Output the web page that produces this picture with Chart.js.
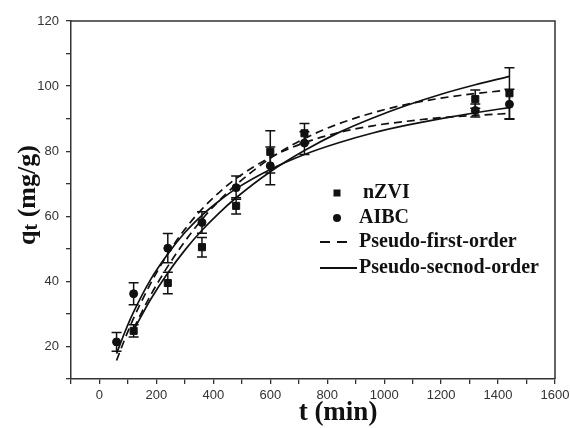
<!DOCTYPE html>
<html>
<head>
<meta charset="utf-8">
<style>
  html, body { margin: 0; padding: 0; background: #fff; }
  #wrap { width: 570px; height: 428px; }
</style>
<script src="https://cdn.jsdelivr.net/npm/chart.js@4/dist/chart.umd.min.js"></script>
</head>
<body>
<div id="wrap"><canvas id="kinetics" width="570" height="428"></canvas></div>
<script>
// Sampling times (min) of the adsorption experiments
const timeMin = [60, 120, 240, 360, 480, 600, 720, 1320, 1440];

// Measured uptake q_t (mg/g) and standard deviations
const nzviQ   = [null, 24.8, 39.5, 50.5, 63.2, 79.8, 85.5, 96.0, 97.8];
const nzviErr = [null, 1.9, 3.3, 3.0, 2.5, 6.5, 3.0, 2.8, 7.8];
const aibcQ   = [21.4, 36.2, 50.2, 58.1, 68.8, 75.5, 82.5, 92.5, 94.4];
const aibcErr = [2.9, 3.4, 4.5, 3.3, 3.6, 5.8, 3.5, 2.0, 4.6];

// Fitted kinetic curves
const aibcFitTime = [60, 90, 120, 180, 240, 300, 360, 420, 480, 600, 720, 840, 960, 1080, 1200, 1320, 1440];
const aibcFirst   = [15.7, 22.5, 28.7, 39.4, 48.5, 56.0, 62.2, 67.3, 71.6, 78.1, 82.6, 85.7, 87.8, 89.2, 90.3, 91.0, 91.6];
const aibcSecond  = [17.8, 24.6, 30.6, 40.6, 48.4, 55.0, 60.3, 64.7, 68.5, 74.4, 79.0, 82.6, 85.6, 88.0, 90.0, 91.8, 93.4];

const nzviFitTime = [120, 180, 240, 300, 360, 420, 480, 600, 720, 840, 960, 1080, 1200, 1320, 1440];
const nzviFirst   = [25.5, 35.8, 44.6, 52.3, 59.0, 64.8, 69.7, 77.8, 83.9, 88.4, 91.8, 94.4, 96.3, 97.7, 98.8];
const nzviSecond  = [25.0, 34.5, 42.6, 49.6, 55.7, 61.0, 65.7, 73.7, 80.2, 85.7, 90.2, 94.1, 97.5, 100.4, 103.0];

// Axis tick labels
const xTickLabels = [0, 200, 400, 600, 800, 1000, 1200, 1400, 1600];
const yTickLabels = [20, 40, 60, 80, 100, 120];

// Legend entries
const legendItems = ['nZVI', 'AIBC', 'Pseudo-first-order', 'Pseudo-secnod-order'];

const INK = '#111';
const SANS = '"Liberation Sans", Arial, sans-serif';
const SERIF = '"Liberation Serif", "Times New Roman", serif';

const toPoints = (xs, ys) => xs.map((x, i) => ({ x, y: ys[i] })).filter(p => p.y !== null);

function curve(label, xs, ys, dashed) {
  return {
    label,
    data: toPoints(xs, ys),
    showLine: true,
    borderColor: INK,
    borderWidth: 1.7,
    borderDash: dashed ? [8, 5] : [],
    pointRadius: 0,
    pointHoverRadius: 0,
    cubicInterpolationMode: 'monotone',
    fill: false
  };
}

function markers(label, ys, style, radius) {
  return {
    label,
    data: toPoints(timeMin, ys),
    showLine: false,
    pointStyle: style,
    pointRadius: radius,
    pointBackgroundColor: INK,
    pointBorderColor: INK,
    pointBorderWidth: 1
  };
}

// Error bars, frame, axis titles and legend
const decorations = {
  id: 'decorations',
  beforeDatasetsDraw(chart) {
    const { ctx, scales: { x, y } } = chart;
    ctx.save();
    ctx.strokeStyle = INK;
    ctx.lineWidth = 1.5;
    const draw = (vals, errs) => {
      timeMin.forEach((t, i) => {
        if (vals[i] === null) return;
        const px = x.getPixelForValue(t);
        const top = y.getPixelForValue(vals[i] + errs[i]);
        const bot = y.getPixelForValue(vals[i] - errs[i]);
        ctx.beginPath();
        ctx.moveTo(px, top); ctx.lineTo(px, bot);
        ctx.moveTo(px - 5, top); ctx.lineTo(px + 5, top);
        ctx.moveTo(px - 5, bot); ctx.lineTo(px + 5, bot);
        ctx.stroke();
      });
    };
    draw(nzviQ, nzviErr);
    draw(aibcQ, aibcErr);
    ctx.restore();
  },
  afterDraw(chart) {
    const { ctx, chartArea: a } = chart;
    ctx.save();
    // top and right frame lines
    ctx.strokeStyle = '#333';
    ctx.lineWidth = 1.5;
    ctx.beginPath();
    ctx.moveTo(a.left, a.top);
    ctx.lineTo(a.right, a.top);
    ctx.lineTo(a.right, a.bottom);
    ctx.stroke();

    // x title
    ctx.fillStyle = INK;
    ctx.textBaseline = 'alphabetic';
    ctx.textAlign = 'center';
    ctx.font = 'bold 27px ' + SERIF;
    ctx.fillText('t (min)', 338, 420);

    // y title with subscript
    ctx.textBaseline = 'middle';
    ctx.save();
    ctx.translate(28, 195);
    ctx.rotate(-Math.PI / 2);
    ctx.textAlign = 'left';
    const big = 'bold 26px ' + SERIF;
    const small = 'bold 20px ' + SERIF;
    ctx.font = big;
    const wq = ctx.measureText('q').width;
    const wRest = ctx.measureText(' (mg/g)').width;
    ctx.font = small;
    const wt = ctx.measureText('t').width;
    let cx = -(wq + wt + wRest) / 2;
    ctx.font = big;
    ctx.fillText('q', cx, 0);
    cx += wq;
    ctx.font = small;
    ctx.fillText('t', cx, 4);
    cx += wt;
    ctx.font = big;
    ctx.fillText(' (mg/g)', cx, 0);
    ctx.restore();

    // legend
    ctx.font = 'bold 20px ' + SERIF;
    ctx.textAlign = 'left';
    ctx.fillStyle = INK;
    ctx.fillRect(337 - 3.5, 193 - 3.5, 7, 7);
    ctx.fillText(legendItems[0], 363, 193);
    ctx.beginPath();
    ctx.arc(337, 218, 4, 0, Math.PI * 2);
    ctx.fill();
    ctx.fillText(legendItems[1], 359, 218);
    ctx.strokeStyle = INK;
    ctx.lineWidth = 1.8;
    ctx.setLineDash([10, 7]);
    ctx.beginPath();
    ctx.moveTo(320, 242); ctx.lineTo(350, 242);
    ctx.stroke();
    ctx.setLineDash([]);
    ctx.fillText(legendItems[2], 359, 242);
    ctx.beginPath();
    ctx.moveTo(320, 268); ctx.lineTo(357, 268);
    ctx.stroke();
    ctx.fillText(legendItems[3], 359, 268);
    ctx.restore();
  }
};

new Chart(document.getElementById('kinetics'), {
  type: 'scatter',
  data: {
    datasets: [
      curve('AIBC pseudo-first-order', aibcFitTime, aibcFirst, true),
      curve('AIBC pseudo-second-order', aibcFitTime, aibcSecond, false),
      curve('nZVI pseudo-first-order', nzviFitTime, nzviFirst, true),
      curve('nZVI pseudo-second-order', nzviFitTime, nzviSecond, false),
      markers('nZVI', nzviQ, 'rect', 5),
      markers('AIBC', aibcQ, 'circle', 4)
    ]
  },
  options: {
    responsive: false,
    animation: false,
    events: [],
    layout: { padding: { top: 21, right: 15, left: 0, bottom: 0 } },
    plugins: { legend: { display: false }, tooltip: { enabled: false } },
    scales: {
      x: {
        type: 'linear',
        min: -100,
        max: 1600,
        afterFit(scale) {
          scale.height = 49;
          scale.paddingLeft = 0;
          scale.paddingRight = 0;
        },
        border: { color: '#333', width: 1.5 },
        grid: { drawOnChartArea: false, drawTicks: true, tickLength: 5, color: '#333', lineWidth: 1.3 },
        ticks: {
          stepSize: 100,
          autoSkip: false,
          maxRotation: 0,
          padding: 4,
          color: '#333',
          font: { family: SANS, size: 13 },
          callback: v => xTickLabels.includes(v) ? String(v) : ''
        }
      },
      y: {
        type: 'linear',
        min: 10,
        max: 120,
        afterFit(scale) {
          scale.width = 71;
          scale.paddingTop = 0;
          scale.paddingBottom = 0;
        },
        border: { color: '#333', width: 1.5 },
        grid: { drawOnChartArea: false, drawTicks: true, tickLength: 5, color: '#333', lineWidth: 1.3 },
        ticks: {
          stepSize: 10,
          autoSkip: false,
          padding: 7,
          color: '#333',
          font: { family: SANS, size: 13 },
          callback: v => yTickLabels.includes(v) ? String(v) : ''
        }
      }
    }
  },
  plugins: [decorations]
});
</script>
</body>
</html>
